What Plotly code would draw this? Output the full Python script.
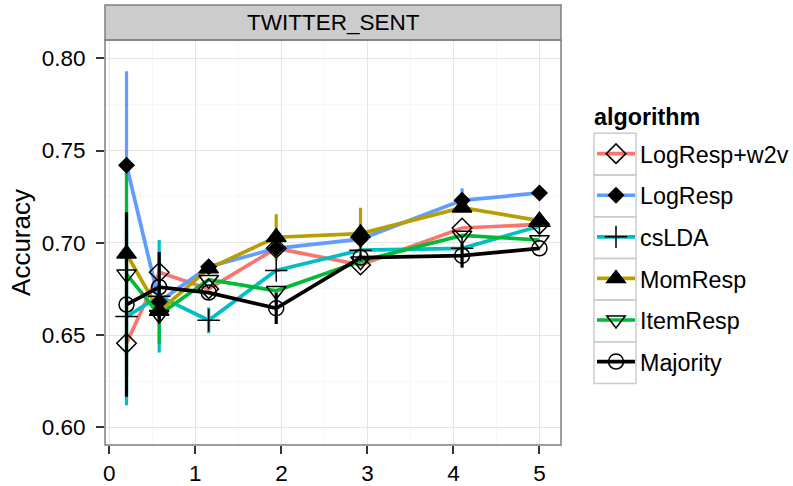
import plotly.graph_objects as go

# Shared x positions for every algorithm
x_vals = [0.2, 0.58, 1.155, 1.94, 2.92, 4.1, 5.0]

algorithms = ["LogResp+w2v", "LogResp", "csLDA", "MomResp", "ItemResp", "Majority"]

acc_logresp_w2v = [0.6455, 0.684, 0.675, 0.697, 0.688, 0.708, 0.710]
acc_logresp = [0.742, 0.668, 0.687, 0.697, 0.702, 0.723, 0.727]
acc_cslda = [0.660, 0.671, 0.658, 0.685, 0.696, 0.697, 0.709]
acc_momresp = [0.694, 0.663, 0.686, 0.703, 0.705, 0.719, 0.712]
acc_itemresp = [0.683, 0.661, 0.680, 0.674, 0.690, 0.704, 0.7015]
acc_majority = [0.6665, 0.676, 0.673, 0.6645, 0.692, 0.693, 0.697]

# Half-widths of the vertical error ranges
err_logresp_w2v = [0, 0, 0, 0, 0, 0, 0]
err_logresp = [0.051, 0, 0, 0, 0, 0.0065, 0]
err_cslda = [0.048, 0.0305, 0.007, 0, 0, 0, 0]
err_momresp = [0, 0, 0, 0.0125, 0.014, 0, 0]
err_itemresp = [0.055, 0.016, 0, 0, 0, 0, 0]
err_majority = [0.050, 0.019, 0, 0.0085, 0, 0.0065, 0]

acc = [acc_logresp_w2v, acc_logresp, acc_cslda, acc_momresp, acc_itemresp, acc_majority]
err = [err_logresp_w2v, err_logresp, err_cslda, err_momresp, err_itemresp, err_majority]

colors = ["#F8766D", "#619CFF", "#00BFC4", "#B79F00", "#00BA38", "#000000"]
symbols = ["diamond-open", "diamond", "cross-thin-open", "triangle-up", "triangle-down-open", "circle-open"]
sizes = [15, 11.5, 16, 17, 17, 15]

x_ticks = [0, 1, 2, 3, 4, 5]
y_ticks = [0.60, 0.65, 0.70, 0.75, 0.80]
y_tick_text = ["0.60", "0.65", "0.70", "0.75", "0.80"]
panel_title = "TWITTER_SENT"
legend_title = "algorithm"

FONT = "Liberation Sans, Arial, Helvetica, sans-serif"
LINE_W = 3.7

fig = go.Figure()

# Lines and error ranges
for name, ys, es, col in zip(algorithms, acc, err, colors):
    fig.add_trace(go.Scatter(
        x=x_vals, y=ys, mode="lines", name=name, showlegend=False,
        line=dict(color=col, width=LINE_W),
        error_y=dict(type="data", array=es, visible=True, color=col,
                     thickness=3.2, width=0),
        hoverinfo="skip",
    ))

# Point symbols on top of all lines
for name, ys, sym, sz in zip(algorithms, acc, symbols, sizes):
    fig.add_trace(go.Scatter(
        x=x_vals, y=ys, mode="markers", name=name, showlegend=False,
        marker=dict(symbol=sym, size=sz, color="black",
                    line=dict(color="black", width=1.5)),
    ))

# Legend entries combining line and symbol
for i, (name, col, sym, sz) in enumerate(zip(algorithms, colors, symbols, sizes)):
    fig.add_trace(go.Scatter(
        x=[None], y=[None], mode="lines+markers", name=name,
        legendgroup=f"g{i}",
        line=dict(color=col, width=LINE_W),
        marker=dict(symbol=sym, size=sz, color="black",
                    line=dict(color="black", width=1.5)),
    ))

W, H = 793, 486
L, R, T, B = 105, 232, 40, 41
ph = H - T - B
pw = W - L - R


def px_x(px):
    return (px - L) / pw


def px_y(py):
    return (H - B - py) / ph


shapes = [
    # facet strip
    dict(type="rect", xref="paper", yref="paper", x0=0, x1=1,
         y0=1, y1=px_y(5), fillcolor="#CCCCCC",
         line=dict(color="#7F7F7F", width=1.5), layer="above"),
    # panel border
    dict(type="rect", xref="paper", yref="paper", x0=0, x1=1, y0=0, y1=1,
         line=dict(color="#7F7F7F", width=1.5), layer="above"),
]

# legend key boxes
key_top = 133.3
key_h = 41.7
for i in range(len(algorithms)):
    top = key_top + i * key_h
    shapes.append(dict(
        type="rect", xref="paper", yref="paper",
        x0=px_x(594), x1=px_x(636),
        y0=px_y(top + key_h), y1=px_y(top),
        line=dict(color="#CCCCCC", width=1.5), layer="below",
    ))

fig.update_layout(
    width=W, height=H,
    margin=dict(l=L, r=R, t=T, b=B, autoexpand=False),
    paper_bgcolor="white", plot_bgcolor="white",
    font=dict(family=FONT, size=22.5, color="black"),
    shapes=shapes,
    annotations=[
        dict(text=panel_title, xref="paper", yref="paper", x=0.5,
             y=px_y(22.5), showarrow=False, yanchor="middle",
             font=dict(family=FONT, size=22.5, color="black")),
        dict(text="<b>" + legend_title + "</b>", xref="paper", yref="paper",
             x=px_x(594), y=px_y(117), xanchor="left", yanchor="middle",
             showarrow=False, xshift=-2,
             font=dict(family=FONT, size=23.3, color="black")),
    ],
    xaxis=dict(
        range=[-0.05, 5.25], tickvals=x_ticks, ticks="outside",
        ticklen=8, tickwidth=2, tickcolor="#333333",
        showgrid=True, gridcolor="#E5E5E5", gridwidth=1.3,
        zeroline=False, showline=False, automargin=False,
        tickfont=dict(family=FONT, size=22.5, color="black"),
        minor=dict(dtick=0.5, tick0=0, showgrid=True,
                   gridcolor="#F7F7F7", gridwidth=1, ticks=""),
    ),
    yaxis=dict(
        range=[0.5904, 0.8099], tickvals=y_ticks, ticktext=y_tick_text,
        ticks="outside", ticklen=8, tickwidth=2, tickcolor="#333333",
        ticklabelstandoff=6,
        showgrid=True, gridcolor="#E5E5E5", gridwidth=1.3,
        zeroline=False, showline=False, automargin=False,
        tickfont=dict(family=FONT, size=22.5, color="black"),
        title=dict(text="Accuracy", font=dict(family=FONT, size=26, color="black"),
                   standoff=3),
        minor=dict(dtick=0.025, tick0=0.6, showgrid=True,
                   gridcolor="#F7F7F7", gridwidth=1, ticks=""),
    ),
    legend=dict(
        x=px_x(592), y=px_y(132), xanchor="left", yanchor="top",
        font=dict(family=FONT, size=23.3, color="black"),
        traceorder="grouped", tracegroupgap=8.3,
        bgcolor="rgba(0,0,0,0)", itemwidth=38,
    ),
)

fig.write_html("out.html")
